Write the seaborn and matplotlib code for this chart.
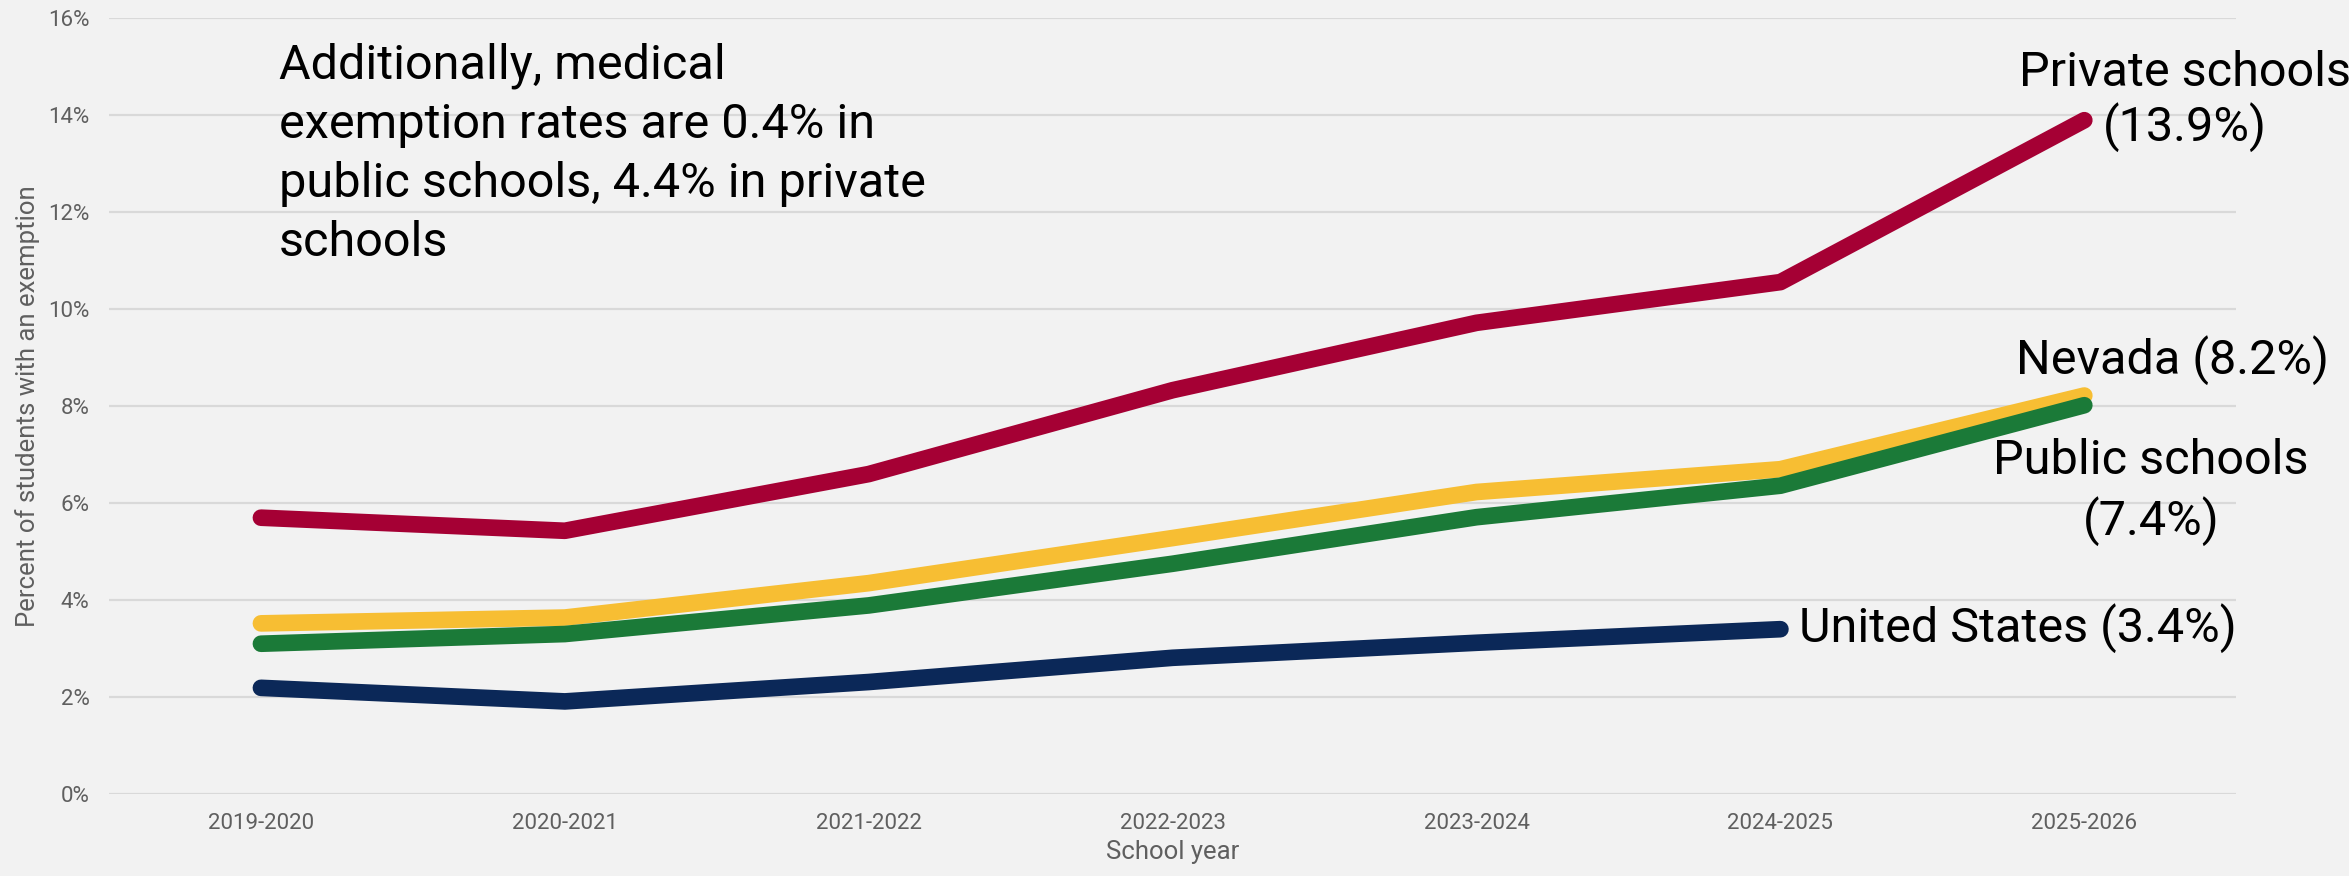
import numpy as np
import pandas as pd
import matplotlib
matplotlib.use("Agg")
import matplotlib.pyplot as plt
import seaborn as sns

# school years on the x axis
years = ["2019-2020", "2020-2021", "2021-2022", "2022-2023",
         "2023-2024", "2024-2025", "2025-2026"]

# percent of students with an exemption
private_schools = [5.7, 5.43, 6.6, 8.33, 9.72, 10.56, 13.9]
nevada = [3.52, 3.64, 4.35, 5.28, 6.23, 6.7, 8.22]
public_schools = [3.1, 3.3, 3.89, 4.75, 5.71, 6.36, 8.02]
united_states = [2.19, 1.91, 2.31, 2.81, 3.12, 3.4]

series_names = ["Private schools", "Nevada", "Public schools", "United States"]
colors = ["#A50034", "#F7BE33", "#1B7A38", "#0B2858"]

end_labels = ["Private schools\n(13.9%)", "Nevada (8.2%)",
              "Public schools\n(7.4%)", "United States (3.4%)"]
note = ("Additionally, medical\nexemption rates are 0.4% in\n"
        "public schools, 4.4% in private\nschools")


def build_frame():
    parts = []
    for name, vals in zip(series_names,
                          [private_schools, nevada, public_schools, united_states]):
        parts.append(pd.DataFrame({"year": years[:len(vals)],
                                   "pct": vals,
                                   "series": name}))
    df = pd.concat(parts, ignore_index=True)
    df["x"] = df["year"].map({y: i for i, y in enumerate(years)})
    return df


df = build_frame()

bg = "#F2F2F2"
sns.set_theme(style="whitegrid", rc={
    "axes.facecolor": bg,
    "figure.facecolor": bg,
    "grid.color": "#D9D9D9",
    "grid.linewidth": 1.6,
    "axes.edgecolor": bg,
})
plt.rcParams["font.family"] = ["Roboto", "DejaVu Sans"]

fig = plt.figure(figsize=(23.49, 8.76), dpi=100)
ax = fig.add_axes([0.0464, 0.0936, 0.9056, 0.8854])

sns.lineplot(ax=ax, data=df, x="x", y="pct", hue="series",
             hue_order=series_names, palette=colors, sort=False,
             linewidth=12, solid_capstyle="round", legend=False)

ax.set_xlim(-0.5, 6.5)
ax.set_ylim(0, 16)
ax.set_xticks(range(len(years)))
ax.set_xticklabels(years)
ax.set_yticks(np.arange(0, 17, 2))
ax.set_yticklabels([f"{v}%" for v in range(0, 17, 2)])
ax.grid(axis="x", visible=False)
ax.tick_params(axis="both", length=0, labelsize=16, colors="#5F5F5F")
ax.tick_params(axis="y", pad=14)
ax.tick_params(axis="x", pad=14)
for s in ax.spines.values():
    s.set_visible(False)

ax.set_xlabel("School year", fontsize=18.5, color="#5F5F5F", labelpad=4)
ax.set_ylabel("Percent of students with an exemption", fontsize=18.5,
              color="#5F5F5F", labelpad=6)

# end-of-line labels
lab_fs = 35
ax.text(6.33, 14.3, end_labels[0], fontsize=lab_fs, ha="center", va="center",
        linespacing=1.15, color="black")
ax.text(6.29, 8.95, end_labels[1], fontsize=lab_fs, ha="center", va="center",
        color="black")
ax.text(6.22, 6.23, end_labels[2], fontsize=lab_fs, ha="center", va="center",
        linespacing=1.3, color="black")
ax.text(5.06, 3.43, end_labels[3], fontsize=lab_fs, ha="left", va="center",
        color="black")

ax.text(0.06, 15.5, note, fontsize=lab_fs, ha="left", va="top",
        linespacing=1.36, color="black")

fig.savefig("out.png", dpi=100, facecolor=bg)
